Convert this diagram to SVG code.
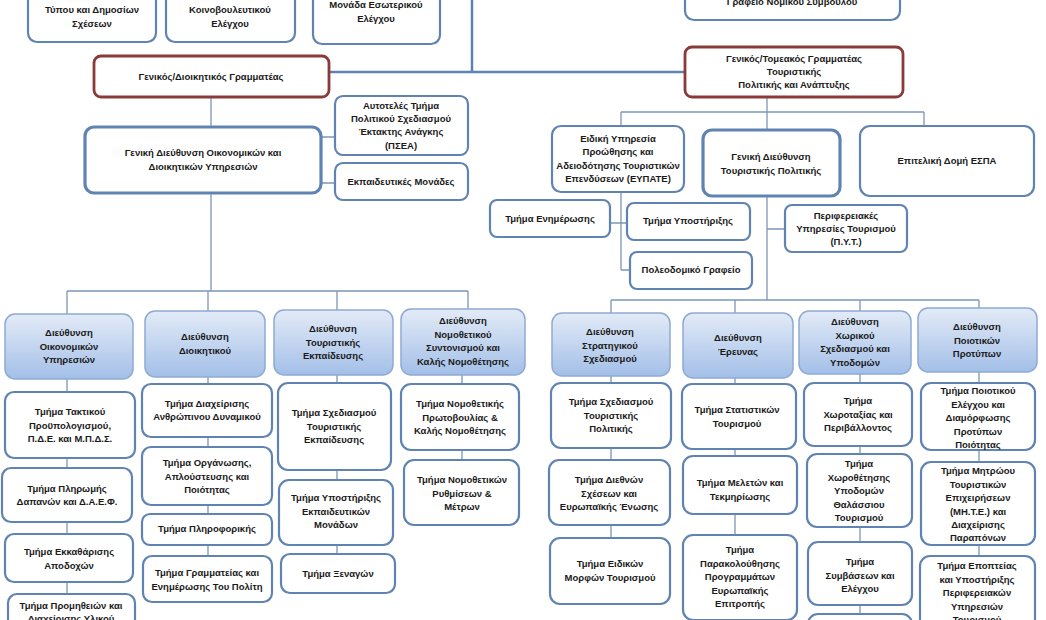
<svg xmlns="http://www.w3.org/2000/svg" width="1046" height="620" viewBox="0 0 1046 620">
<style>
text{font-family:"Liberation Sans",Arial,sans-serif;font-weight:bold;font-size:9.5px;fill:#1a1a1a;text-anchor:middle}
.b{fill:#fff;stroke:#5f83b3;stroke-width:2.2}
.k{fill:#fff;stroke:#5f83b3;stroke-width:3.2}
.r{fill:#fff;stroke:#8b3a3a;stroke-width:2.8}
.h{fill:url(#g);stroke:#8eaad2;stroke-width:1.5}
.c{stroke:#7b96b8;stroke-width:1.3;fill:none}
.m{stroke:#5f83b3;stroke-width:2.5;fill:none}
</style>
<defs><linearGradient id="g" x1="0" y1="0" x2="0" y2="1"><stop offset="0" stop-color="#e3ebf7"/><stop offset="1" stop-color="#a3bfe8"/></linearGradient></defs>
<rect width="1046" height="620" fill="#fff"/>
<g id="connectors">
<path class="m" d="M472 0V72M329 72H685"/>
<path class="c" d="M211 97V291M321 137H335M321 183H335M67 291H468M67 291V314M208 291V311M337 291V310M468 291V309"/>
<path class="c" d="M67 379V392M67 458V468M67 522V534M67 582V594M208 377V384M208 437V447M208 505V514M208 545V556M337 375V383M337 470V480M337 545V554M462 375V384M462 450V460"/>
<path class="c" d="M767 97V112M621 112H924M621 112V126M767 112V130M924 112V126M621 192V270M610 223H627M621 270H630M767 196V300M767 229H785M611 300H979M611 300V313M735 300V313M860 300V311M979 300V308"/>
<path class="c" d="M611 376V383M611 448V460M611 525V538M735 378V384M735 449V456M735 514V535M860 374V383M860 446V454M860 527V542M860 605V614M979 372V383M979 450V462M979 545V556"/>
</g>
<g id="n_tupos"><rect class="b" x="28" y="-20" width="128" height="62" rx="9"/><text x="92" y="13">Τύπου και Δημοσίων</text><text x="92" y="27">Σχέσεων</text></g>
<g id="n_koinov"><rect class="b" x="166" y="-20" width="129" height="62" rx="9"/><text x="230" y="13">Κοινοβουλευτικού</text><text x="230" y="27">Ελέγχου</text></g>
<g id="n_esot"><rect class="b" x="313" y="-20" width="127" height="64" rx="9"/><text x="376" y="8">Μονάδα Εσωτερικού</text><text x="376" y="22">Ελέγχου</text></g>
<g id="n_nomikos"><rect class="b" x="685" y="-20" width="215" height="40" rx="9"/><text x="792" y="5">Γραφείο Νομικού Συμβούλου</text></g>
<g id="n_gs1"><rect class="r" x="94" y="56" width="235" height="41" rx="7"/><text x="211" y="80">Γενικός/Διοικητικός Γραμματέας</text></g>
<g id="n_gs2"><rect class="r" x="685" y="47" width="218" height="50" rx="7"/><text x="794" y="62">Γενικός/Τομεακός Γραμματέας</text><text x="794" y="75">Τουριστικής</text><text x="794" y="88">Πολιτικής και Ανάπτυξης</text></g>
<g id="n_gd1"><rect class="k" x="85" y="127" width="236" height="66" rx="9"/><text x="203" y="156">Γενική Διεύθυνση Οικονομικών και</text><text x="203" y="170">Διοικητικών Υπηρεσιών</text></g>
<g id="n_psea"><rect class="b" x="335" y="96" width="133" height="59" rx="8"/><text x="401" y="109">Αυτοτελές Τμήμα</text><text x="401" y="122">Πολιτικού Σχεδιασμού</text><text x="401" y="135">Έκτακτης Ανάγκης</text><text x="401" y="149">(ΠΣΕΑ)</text></g>
<g id="n_ekp"><rect class="b" x="335" y="163" width="133" height="37" rx="8"/><text x="401" y="185">Εκπαιδευτικές Μονάδες</text></g>
<g id="n_eypate"><rect class="b" x="552" y="126" width="132" height="66" rx="9"/><text x="618" y="142">Ειδική Υπηρεσία</text><text x="618" y="155">Προώθησης και</text><text x="618" y="169">Αδειοδότησης Τουριστικών</text><text x="618" y="182">Επενδύσεων (ΕΥΠΑΤΕ)</text></g>
<g id="n_gdt"><rect class="k" x="703" y="130" width="137" height="66" rx="9"/><text x="771" y="160">Γενική Διεύθυνση</text><text x="771" y="174">Τουριστικής Πολιτικής</text></g>
<g id="n_espa"><rect class="b" x="860" y="126" width="174" height="70" rx="10"/><text x="947" y="164">Επιτελική Δομή ΕΣΠΑ</text></g>
<g id="n_enim"><rect class="b" x="490" y="200" width="120" height="37" rx="7"/><text x="550" y="222">Τμήμα Ενημέρωσης</text></g>
<g id="n_ypost"><rect class="b" x="627" y="203" width="123" height="37" rx="7"/><text x="688" y="224">Τμήμα Υποστήριξης</text></g>
<g id="n_pol"><rect class="b" x="630" y="252" width="122" height="37" rx="7"/><text x="691" y="273">Πολεοδομικό Γραφείο</text></g>
<g id="n_pyt"><rect class="b" x="785" y="205" width="122" height="47" rx="7"/><text x="846" y="219">Περιφερειακές</text><text x="846" y="232">Υπηρεσίες Τουρισμού</text><text x="846" y="245">(Π.Υ.Τ.)</text></g>
<g id="h1"><rect class="h" x="5" y="314" width="128" height="65" rx="10"/><text x="69" y="336">Διεύθυνση</text><text x="69" y="350">Οικονομικών</text><text x="69" y="363">Υπηρεσιών</text></g>
<g id="h2"><rect class="h" x="145" y="311" width="120" height="66" rx="10"/><text x="205" y="340">Διεύθυνση</text><text x="205" y="354">Διοικητικού</text></g>
<g id="h3"><rect class="h" x="274" y="310" width="119" height="65" rx="10"/><text x="333" y="332">Διεύθυνση</text><text x="333" y="346">Τουριστικής</text><text x="333" y="359">Εκπαίδευσης</text></g>
<g id="h4"><rect class="h" x="401" y="309" width="124" height="66" rx="10"/><text x="463" y="324">Διεύθυνση</text><text x="463" y="338">Νομοθετικού</text><text x="463" y="351">Συντονισμού και</text><text x="463" y="365">Καλής Νομοθέτησης</text></g>
<g id="c1a"><rect class="b" x="5" y="392" width="130" height="66" rx="9"/><text x="70" y="415">Τμήμα Τακτικού</text><text x="70" y="429">Προϋπολογισμού,</text><text x="70" y="442">Π.Δ.Ε. και Μ.Π.Δ.Σ.</text></g>
<g id="c1b"><rect class="b" x="2" y="468" width="130" height="54" rx="9"/><text x="67" y="492">Τμήμα Πληρωμής</text><text x="67" y="505">Δαπανών και Δ.Α.Ε.Φ.</text></g>
<g id="c1c"><rect class="b" x="5" y="534" width="128" height="48" rx="9"/><text x="69" y="555">Τμήμα Εκκαθάρισης</text><text x="69" y="569">Αποδοχών</text></g>
<g id="c1d"><rect class="b" x="8" y="594" width="127" height="40" rx="9"/><text x="71" y="609">Τμήμα Προμηθειών και</text><text x="71" y="622">Διαχείρισης Υλικού</text></g>
<g id="c2a"><rect class="b" x="142" y="384" width="130" height="53" rx="9"/><text x="207" y="407">Τμήμα Διαχείρισης</text><text x="207" y="420">Ανθρώπινου Δυναμικού</text></g>
<g id="c2b"><rect class="b" x="142" y="447" width="130" height="58" rx="9"/><text x="207" y="466">Τμήμα Οργάνωσης,</text><text x="207" y="480">Απλούστευσης και</text><text x="207" y="493">Ποιότητας</text></g>
<g id="c2c"><rect class="b" x="142" y="514" width="130" height="31" rx="8"/><text x="207" y="532">Τμήμα Πληροφορικής</text></g>
<g id="c2d"><rect class="b" x="143" y="556" width="129" height="46" rx="9"/><text x="207" y="576">Τμήμα Γραμματείας και</text><text x="207" y="590">Ενημέρωσης Του Πολίτη</text></g>
<g id="c3a"><rect class="b" x="278" y="383" width="113" height="87" rx="10"/><text x="334" y="416">Τμήμα Σχεδιασμού</text><text x="334" y="430">Τουριστικής</text><text x="334" y="443">Εκπαίδευσης</text></g>
<g id="c3b"><rect class="b" x="279" y="480" width="114" height="65" rx="10"/><text x="336" y="501">Τμήμα Υποστήριξης</text><text x="336" y="515">Εκπαιδευτικών</text><text x="336" y="528">Μονάδων</text></g>
<g id="c3c"><rect class="b" x="281" y="554" width="114" height="39" rx="9"/><text x="338" y="577">Τμήμα Ξεναγών</text></g>
<g id="c4a"><rect class="b" x="401" y="384" width="118" height="66" rx="10"/><text x="460" y="407">Τμήμα Νομοθετικής</text><text x="460" y="421">Πρωτοβουλίας &amp;</text><text x="460" y="434">Καλής Νομοθέτησης</text></g>
<g id="c4b"><rect class="b" x="404" y="460" width="115" height="65" rx="10"/><text x="462" y="483">Τμήμα Νομοθετικών</text><text x="462" y="497">Ρυθμίσεων &amp;</text><text x="462" y="510">Μέτρων</text></g>
<g id="hA"><rect class="h" x="552" y="313" width="118" height="63" rx="10"/><text x="610" y="335">Διεύθυνση</text><text x="610" y="349">Στρατηγικού</text><text x="610" y="362">Σχεδιασμού</text></g>
<g id="hB"><rect class="h" x="683" y="313" width="110" height="65" rx="10"/><text x="738" y="341">Διεύθυνση</text><text x="738" y="355">Έρευνας</text></g>
<g id="hC"><rect class="h" x="799" y="311" width="112" height="63" rx="10"/><text x="855" y="325">Διεύθυνση</text><text x="855" y="339">Χωρικού</text><text x="855" y="352">Σχεδιασμού και</text><text x="855" y="366">Υποδομών</text></g>
<g id="hD"><rect class="h" x="918" y="308" width="119" height="64" rx="10"/><text x="977" y="330">Διεύθυνση</text><text x="977" y="344">Ποιοτικών</text><text x="977" y="357">Προτύπων</text></g>
<g id="cAa"><rect class="b" x="551" y="383" width="120" height="65" rx="10"/><text x="611" y="405">Τμήμα Σχεδιασμού</text><text x="611" y="419">Τουριστικής</text><text x="611" y="432">Πολιτικής</text></g>
<g id="cAb"><rect class="b" x="549" y="460" width="121" height="65" rx="10"/><text x="609" y="483">Τμήμα Διεθνών</text><text x="609" y="497">Σχέσεων και</text><text x="609" y="510">Ευρωπαϊκής Ένωσης</text></g>
<g id="cAc"><rect class="b" x="550" y="538" width="120" height="66" rx="10"/><text x="610" y="567">Τμήμα Ειδικών</text><text x="610" y="581">Μορφών Τουρισμού</text></g>
<g id="cBa"><rect class="b" x="682" y="384" width="114" height="65" rx="10"/><text x="737" y="413">Τμήμα Στατιστικών</text><text x="737" y="427">Τουρισμού</text></g>
<g id="cBb"><rect class="b" x="683" y="456" width="114" height="58" rx="10"/><text x="740" y="486">Τμήμα Μελετών και</text><text x="740" y="500">Τεκμηρίωσης</text></g>
<g id="cBc"><rect class="b" x="683" y="535" width="114" height="85" rx="10"/><text x="740" y="553">Τμήμα</text><text x="740" y="567">Παρακολούθησης</text><text x="740" y="580">Προγραμμάτων</text><text x="740" y="594">Ευρωπαϊκής</text><text x="740" y="607">Επιτροπής</text></g>
<g id="cCa"><rect class="b" x="804" y="383" width="108" height="63" rx="10"/><text x="858" y="404">Τμήμα</text><text x="858" y="418">Χωροταξίας και</text><text x="858" y="431">Περιβάλλοντος</text></g>
<g id="cCb"><rect class="b" x="807" y="454" width="105" height="73" rx="10"/><text x="859" y="467">Τμήμα</text><text x="859" y="481">Χωροθέτησης</text><text x="859" y="494">Υποδομών</text><text x="859" y="508">Θαλάσσιου</text><text x="859" y="521">Τουρισμού</text></g>
<g id="cCc"><rect class="b" x="808" y="542" width="104" height="63" rx="10"/><text x="860" y="565">Τμήμα</text><text x="860" y="579">Συμβάσεων και</text><text x="860" y="592">Ελέγχου</text></g>
<g id="cCd"><rect class="b" x="808" y="614" width="104" height="30" rx="10"/></g>
<g id="cDa"><rect class="b" x="921" y="383" width="114" height="67" rx="10"/><text x="978" y="394">Τμήμα Ποιοτικού</text><text x="978" y="408">Ελέγχου και</text><text x="978" y="421">Διαμόρφωσης</text><text x="978" y="435">Προτύπων</text><text x="978" y="448">Ποιότητας</text></g>
<g id="cDb"><rect class="b" x="921" y="462" width="114" height="83" rx="10"/><text x="978" y="474">Τμήμα Μητρώου</text><text x="978" y="488">Τουριστικών</text><text x="978" y="501">Επιχειρήσεων</text><text x="978" y="515">(ΜΗ.Τ.Ε.) και</text><text x="978" y="528">Διαχείρισης</text><text x="978" y="541">Παραπόνων</text></g>
<g id="cDc"><rect class="b" x="920" y="556" width="115" height="80" rx="10"/><text x="977" y="569">Τμήμα Εποπτείας</text><text x="977" y="583">και Υποστήριξης</text><text x="977" y="596">Περιφερειακών</text><text x="977" y="610">Υπηρεσιών</text><text x="977" y="623">Τουρισμού</text></g>
</svg>
